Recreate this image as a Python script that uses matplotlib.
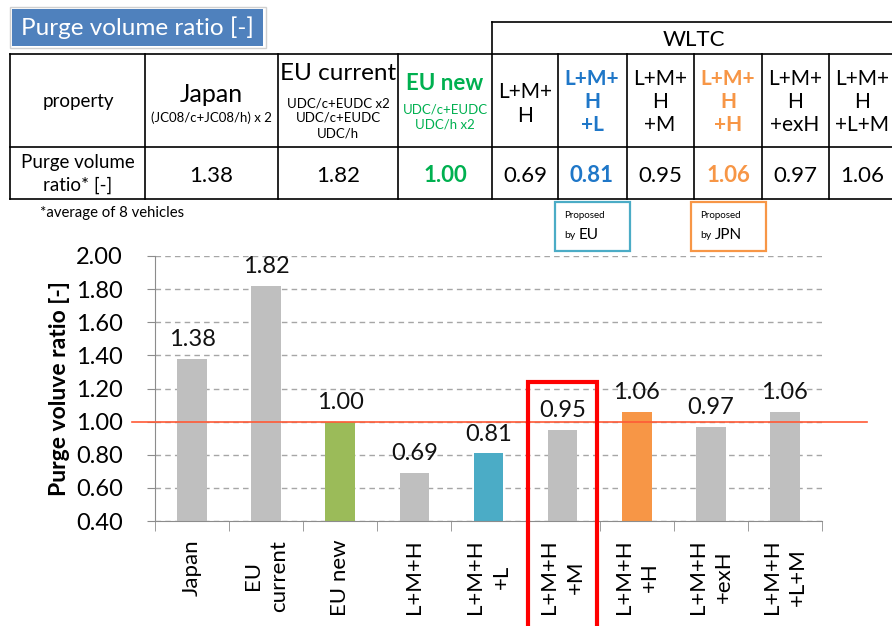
import matplotlib
matplotlib.use('Agg')
import matplotlib.pyplot as plt
from matplotlib.patches import Rectangle

plt.rcParams['font.family'] = ['Lato', 'DejaVu Sans']

c_gris = '#BFBFBF'
c_verde = '#9BBB59'
c_azul = '#4BACC6'
c_naranja = '#F79646'
c_texto_azul = '#1F77C8'
c_texto_verde = '#00B050'

# datos del grafico
categorias = ['Japan', 'EU\ncurrent', 'EU new', 'L+M+H', 'L+M+H\n+L', 'L+M+H\n+M',
              'L+M+H\n+H', 'L+M+H\n+exH', 'L+M+H\n+L+M']
valores = [1.38, 1.82, 1.00, 0.69, 0.81, 0.95, 1.06, 0.97, 1.06]
colores = [c_gris, c_gris, c_verde, c_gris, c_azul, c_gris, c_naranja, c_gris, c_gris]
referencia = 1.00
resaltado = 5

# datos de la tabla
cab_principal = ['Japan', 'EU current', 'EU new']
cab_sub = ['(JC08/c+JC08/h) x 2', 'UDC/c+EUDC x2\nUDC/c+EUDC\nUDC/h', 'UDC/c+EUDC\nUDC/h x2']
cab_wltc = ['L+M+\nH', 'L+M+\nH\n+L', 'L+M+\nH\n+M', 'L+M+\nH\n+H', 'L+M+\nH\n+exH', 'L+M+\nH\n+L+M']
color_texto = ['black', 'black', c_texto_verde, 'black', c_texto_azul, 'black', c_naranja, 'black', 'black']

W, H = 892, 626
fig = plt.figure(figsize=(W / 100, H / 100), dpi=100)

# capa en pixeles para la tabla
capa = fig.add_axes([0, 0, 1, 1], zorder=0)
capa.set_xlim(0, W)
capa.set_ylim(H, 0)
capa.axis('off')

# titulo
capa.add_patch(Rectangle((10, 7), 256, 41, facecolor='white', edgecolor='#D0D0D0', lw=1))
capa.add_patch(Rectangle((12, 9), 251, 37, facecolor='#4F81BD', edgecolor='none'))
capa.text(137, 28, 'Purge volume ratio [-]', color='white', fontsize=17.5, ha='center', va='center')

# lineas de la tabla
lw = 1.2
for y in [54, 147, 199]:
    capa.plot([10, W], [y, y], color='black', lw=lw)
capa.plot([492, W], [22, 22], color='black', lw=lw)
for x in [10, 145, 278, 398, 558, 627, 694, 762, 829]:
    capa.plot([x, x], [54, 199], color='black', lw=lw)
capa.plot([492, 492], [22, 199], color='black', lw=lw)
capa.text(694, 40, 'WLTC', fontsize=16, ha='center', va='center')

capa.text(78, 101, 'property', fontsize=13.5, ha='center', va='center')
capa.text(78, 174, 'Purge volume\nratio* [-]', fontsize=13.5, ha='center', va='center', linespacing=1.4)

centros = [211, 338, 445, 525, 592, 660, 728, 795, 862]
# Japan
capa.text(centros[0], 95, cab_principal[0], fontsize=18, ha='center', va='center')
capa.text(centros[0], 118, cab_sub[0], fontsize=9.5, ha='center', va='center')
# EU current
capa.text(centros[1], 74, cab_principal[1], fontsize=17.5, ha='center', va='center')
capa.text(centros[1], 118, cab_sub[1], fontsize=9.5, ha='center', va='center', linespacing=1.3)
# EU new
capa.text(centros[2], 83, cab_principal[2], fontsize=16, ha='center', va='center',
          color=c_texto_verde, fontweight='bold')
capa.text(centros[2], 117, cab_sub[2], fontsize=9.5, ha='center', va='center',
          color=c_texto_verde, linespacing=1.3)
for i, txt in enumerate(cab_wltc):
    k = i + 3
    y = 104 if txt.count('\n') == 1 else 102
    peso = 'bold' if color_texto[k] != 'black' else 'normal'
    capa.text(centros[k], y, txt, fontsize=15, ha='center', va='center',
              color=color_texto[k], linespacing=1.2, fontweight=peso)

for k, v in enumerate(valores):
    peso = 'bold' if color_texto[k] != 'black' else 'normal'
    capa.text(centros[k], 176, f'{v:.2f}', fontsize=16, ha='center', va='center',
              color=color_texto[k], fontweight=peso)

capa.text(40, 213, '*average of 8 vehicles', fontsize=10.7, ha='left', va='center')

# cajas de propuesta
for x0, col, quien in [(555, c_azul, 'EU'), (691, c_naranja, 'JPN')]:
    capa.add_patch(Rectangle((x0, 202), 75, 49, facecolor='white', edgecolor=col, lw=1.6))
    capa.text(x0 + 9, 216, 'Proposed', fontsize=7, ha='left', va='center')
    capa.text(x0 + 9, 236, 'by', fontsize=7.5, ha='left', va='center')
    capa.text(x0 + 24, 235, quien, fontsize=11, ha='left', va='center')

# grafico de barras
ax = fig.add_axes([155 / W, (H - 521) / H, 667 / W, 265 / H], zorder=1)
ax.patch.set_alpha(0)
x = range(len(categorias))
ax.bar(x, valores, width=0.4, color=colores, zorder=2)
for i, v in enumerate(valores):
    ax.annotate(f'{v:.2f}', (i, v), xytext=(0, 9), textcoords='offset points',
                ha='center', va='baseline', fontsize=17, color='#111111')

ax.set_xlim(-0.5, len(categorias) - 0.5)
ax.set_ylim(0.4, 2.0)
ax.set_yticks([0.4, 0.6, 0.8, 1.0, 1.2, 1.4, 1.6, 1.8, 2.0])
ax.set_yticklabels([f'{t:.2f}' for t in ax.get_yticks()])
ax.yaxis.grid(True, color='#A6A6A6', linestyle=(0, (4, 3)), lw=1, zorder=0)
ax.set_axisbelow(True)
ax.tick_params(axis='y', length=6, color='#8C8C8C', labelsize=17, pad=17)

ax.set_xticks(list(x))
ax.set_xticklabels(categorias, rotation=90, fontsize=16, multialignment='center', linespacing=1.4)
ax.tick_params(axis='x', which='major', length=0, pad=13.5)
ax.set_xticks([i - 0.5 for i in range(len(categorias) + 1)], minor=True)
ax.tick_params(axis='x', which='minor', length=7, color='#8C8C8C')

for s in ['top', 'right']:
    ax.spines[s].set_visible(False)
for s in ['left', 'bottom']:
    ax.spines[s].set_color('#8C8C8C')

ax.set_ylabel('Purge voluve ratio [-]', fontsize=16.5, fontweight='bold')
ax.yaxis.set_label_coords(-0.128, 0.5)

ax.axhline(referencia, xmin=-23 / 667, xmax=712 / 667, color='#FF5A36', lw=1.2,
           clip_on=False, zorder=3)
ax.add_patch(Rectangle((resaltado - 0.47, -0.4), 0.93, 1.64, fill=False,
                       edgecolor='#FF0000', lw=3, clip_on=False, zorder=4))

fig.savefig('out.png', dpi=100)
